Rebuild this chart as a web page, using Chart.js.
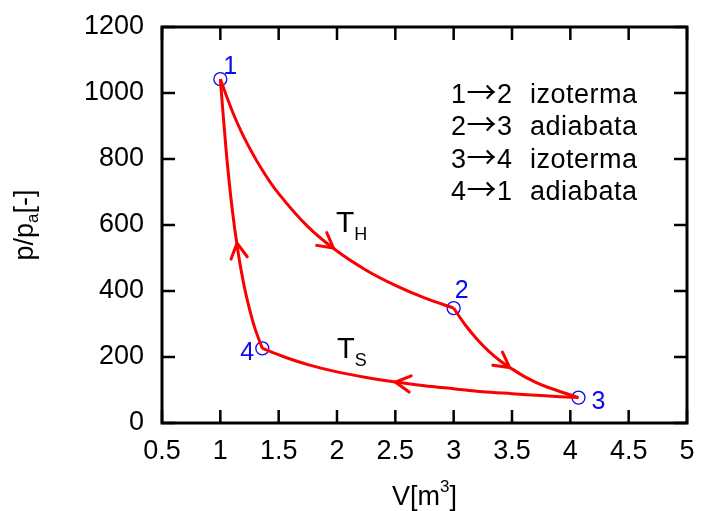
<!DOCTYPE html>
<html>
<head>
<meta charset="utf-8">
<script src="https://cdn.jsdelivr.net/npm/chart.js@4.4.1/dist/chart.umd.min.js"></script>
<style>
  body { margin: 0; background: #fff; }
</style>
</head>
<body>
<div style="width:702px;height:511px"><canvas id="cycle" width="702" height="511"></canvas></div>
<script>
// CARNOT CYCLE, p-V DIAGRAM

// tick labels
var xTickLabels = ['0.5', '1', '1.5', '2', '2.5', '3', '3.5', '4', '4.5', '5'];
var yTickLabels = ['0', '200', '400', '600', '800', '1000', '1200'];

// state points 1..4
var stateNames = ['1', '2', '3', '4'];
var stateV = [1.0, 3.0, 4.07, 1.36];
var stateP = [1042, 348, 77, 226];

// 1 -> 2 izoterma
var iso12V = [1.0, 1.1, 1.2, 1.35, 1.5, 1.75, 2.0, 2.25, 2.5, 2.75, 3.0];
var iso12P = [1042, 947, 868, 772, 695, 595, 521, 463, 417, 379, 348];

// 2 -> 3 adiabata
var adi23V = [3.0, 3.1, 3.2, 3.3, 3.4, 3.5, 3.6, 3.7, 3.8, 3.95, 4.07];
var adi23P = [348, 297, 254, 218, 188, 164, 142, 124, 109, 91, 77];

// 3 -> 4 izoterma
var iso34V = [4.07, 3.75, 3.5, 3.25, 3.0, 2.75, 2.5, 2.25, 2.0, 1.75, 1.55, 1.36];
var iso34P = [77, 83, 89, 95, 104, 113, 124, 138, 155, 177, 200, 226];

// 4 -> 1 adiabata
var adi41V = [1.36, 1.3, 1.25, 1.2, 1.15, 1.1, 1.05, 1.0];
var adi41P = [226, 283, 345, 422, 523, 653, 825, 1042];

// direction arrows on the curves (tip and a point just behind it)
var arrowTipV = [1.97, 3.48, 2.5, 1.143];
var arrowTipP = [530, 168, 124, 545];
var arrowTailV = [1.85, 3.38, 2.7, 1.17];
var arrowTailP = [563, 194, 115, 479];

// legend text
var legendFrom = ['1', '2', '3', '4'];
var legendTo = ['2', '3', '4', '1'];
var legendNames = ['izoterma', 'adiabata', 'izoterma', 'adiabata'];

var FONT = '"Liberation Sans", Arial, Helvetica, sans-serif';
var RED = 'rgb(250, 0, 0)';
var BLUE = 'rgb(10, 10, 240)';

function toPoints(vs, ps) {
    return vs.map(function (v, i) { return { x: v, y: ps[i] }; });
}

function curve(vs, ps) {
    return {
        data: toPoints(vs, ps),
        showLine: true,
        borderColor: RED,
        borderWidth: 3,
        pointRadius: 0,
        tension: 0.3,
        fill: false
    };
}

// text with a sub- or superscript part
function drawParts(ctx, x, y, parts) {
    parts.forEach(function (p) {
        ctx.font = p.size + 'px ' + (p.family || FONT);
        ctx.fillText(p.text, x, y + (p.dy || 0));
        x += ctx.measureText(p.text).width + (p.gap || 0);
    });
}
function partsWidth(ctx, parts) {
    var w = 0;
    parts.forEach(function (p) {
        ctx.font = p.size + 'px ' + (p.family || FONT);
        w += ctx.measureText(p.text).width + (p.gap || 0);
    });
    return w;
}

var decorations = {
    id: 'decorations',
    afterDatasetsDraw: function (chart) {
        var ctx = chart.ctx;
        var xs = chart.scales.x, ys = chart.scales.y;
        var a = chart.chartArea;
        ctx.save();

        // arrows
        ctx.strokeStyle = RED;
        ctx.lineWidth = 3;
        ctx.lineCap = 'round';
        for (var i = 0; i < arrowTipV.length; i++) {
            var tx = xs.getPixelForValue(arrowTipV[i]), ty = ys.getPixelForValue(arrowTipP[i]);
            var bx = xs.getPixelForValue(arrowTailV[i]), by = ys.getPixelForValue(arrowTailP[i]);
            var ang = Math.atan2(ty - by, tx - bx);
            var len = 17, spread = 0.5;
            ctx.beginPath();
            ctx.moveTo(tx - len * Math.cos(ang - spread), ty - len * Math.sin(ang - spread));
            ctx.lineTo(tx, ty);
            ctx.lineTo(tx - len * Math.cos(ang + spread), ty - len * Math.sin(ang + spread));
            ctx.stroke();
        }

        // state labels
        var offs = [[3, -5], [1, -10], [13, 11], [-22, 12]];
        ctx.fillStyle = BLUE;
        ctx.font = '25px ' + FONT;
        ctx.textBaseline = 'alphabetic';
        for (var j = 0; j < stateNames.length; j++) {
            var px = xs.getPixelForValue(stateV[j]), py = ys.getPixelForValue(stateP[j]);
            ctx.fillText(stateNames[j], px + offs[j][0], py + offs[j][1]);
        }

        // temperatures
        ctx.fillStyle = '#000';
        drawParts(ctx, 336, 232, [{ text: 'T', size: 30 }, { text: 'H', size: 18, dy: 8 }]);
        drawParts(ctx, 337, 358, [{ text: 'T', size: 29 }, { text: 'S', size: 18, dy: 8 }]);

        // legend
        ctx.letterSpacing = '0.5px';
        for (var k = 0; k < legendNames.length; k++) {
            var base = 103 + k * 32.3;
            drawParts(ctx, 451, base, [
                { text: legendFrom[k], size: 27, gap: 0 },
                { text: '\u2192', size: 30, family: '"Noto Sans CJK SC", sans-serif', gap: 0 },
                { text: legendTo[k], size: 27 }
            ]);
            ctx.font = '27px ' + FONT;
            ctx.fillText(legendNames[k], 530, base);
        }
        ctx.letterSpacing = '0px';

        // frame and inner ticks
        ctx.strokeStyle = '#000';
        ctx.lineCap = 'butt';
        ctx.lineWidth = 3;
        ctx.strokeRect(a.left, a.top, a.right - a.left, a.bottom - a.top);
        ctx.lineWidth = 2.5;
        var tl = 13;
        ctx.beginPath();
        xs.ticks.forEach(function (t) {
            var x = xs.getPixelForValue(t.value);
            ctx.moveTo(x, a.bottom); ctx.lineTo(x, a.bottom - tl);
            ctx.moveTo(x, a.top); ctx.lineTo(x, a.top + tl);
        });
        ys.ticks.forEach(function (t) {
            var y = ys.getPixelForValue(t.value);
            ctx.moveTo(a.left, y); ctx.lineTo(a.left + tl, y);
            ctx.moveTo(a.right, y); ctx.lineTo(a.right - tl, y);
        });
        ctx.stroke();

        // axis titles
        var xt = [{ text: 'V[m', size: 27 }, { text: '3', size: 17, dy: -13 }, { text: ']', size: 27 }];
        drawParts(ctx, (a.left + a.right) / 2 - partsWidth(ctx, xt) / 2, 505, xt);

        var yt = [{ text: 'p/p', size: 27 }, { text: 'a', size: 17, dy: 5 }, { text: '[-]', size: 27 }];
        ctx.translate(33, (a.top + a.bottom) / 2);
        ctx.rotate(-Math.PI / 2);
        drawParts(ctx, -partsWidth(ctx, yt) / 2, 0, yt);

        ctx.restore();
    }
};

function noPadding(scale) {
    scale.paddingTop = 0;
    scale.paddingBottom = 0;
    scale.paddingLeft = 0;
    scale.paddingRight = 0;
}

var ctx = document.getElementById('cycle').getContext('2d');
var chart = new Chart(ctx, {
    type: 'scatter',
    data: {
        datasets: [
            curve(iso12V, iso12P),
            curve(adi23V, adi23P),
            curve(iso34V, iso34P),
            curve(adi41V, adi41P),
            {
                data: toPoints(stateV, stateP),
                showLine: false,
                pointStyle: 'circle',
                pointRadius: 6.5,
                pointBorderColor: BLUE,
                pointBackgroundColor: 'rgba(0,0,0,0)',
                pointBorderWidth: 1.3
            }
        ]
    },
    options: {
        responsive: false,
        animation: false,
        layout: { padding: { top: 27, right: 15, left: 0, bottom: 0 } },
        plugins: {
            legend: { display: false },
            tooltip: { enabled: false }
        },
        scales: {
            x: {
                type: 'linear',
                min: 0.5,
                max: 5,
                grid: { display: false, drawTicks: false },
                border: { display: false },
                ticks: {
                    stepSize: 0.5,
                    padding: 12,
                    color: '#000',
                    font: { family: FONT, size: 27 },
                    maxRotation: 0,
                    callback: function (value, index) { return xTickLabels[index]; }
                },
                afterFit: function (scale) { scale.height = 88; noPadding(scale); }
            },
            y: {
                type: 'linear',
                min: 0,
                max: 1200,
                grid: { display: false, drawTicks: false },
                border: { display: false },
                ticks: {
                    stepSize: 200,
                    padding: 18,
                    color: '#000',
                    font: { family: FONT, size: 27 },
                    callback: function (value, index) { return yTickLabels[index]; }
                },
                afterFit: function (scale) { scale.width = 162; noPadding(scale); }
            }
        }
    },
    plugins: [decorations]
});
</script>
</body>
</html>
